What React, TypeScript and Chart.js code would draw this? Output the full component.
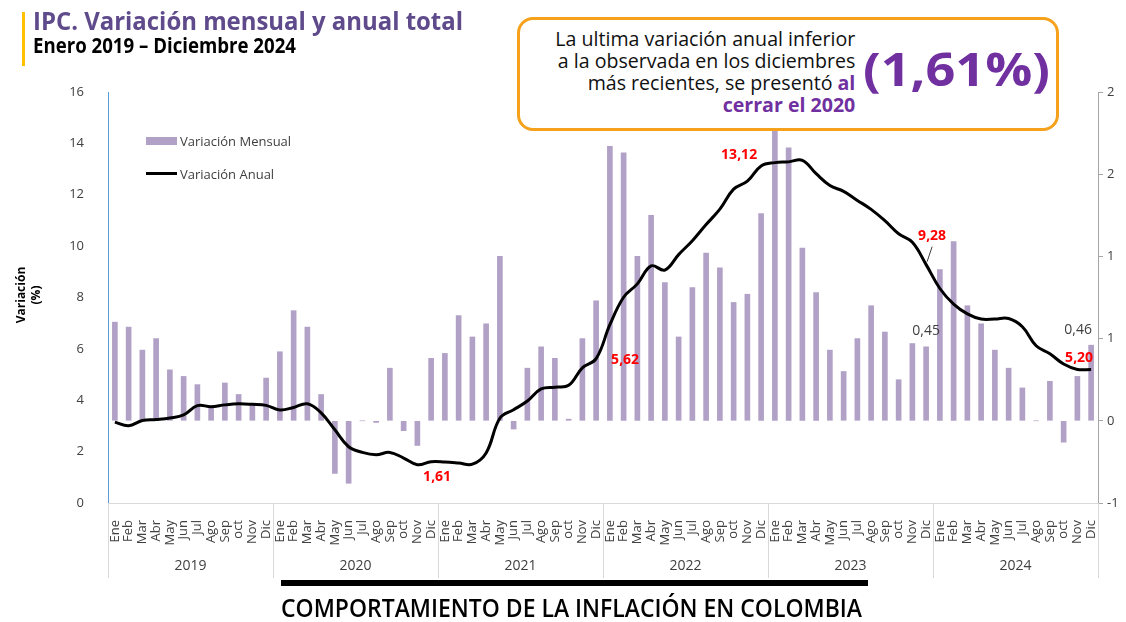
import React, { useEffect, useLayoutEffect, useRef } from 'react';
import { Chart, registerables } from 'chart.js';

Chart.register(...registerables);

// ---------- data ----------
const MONTHS = ['Ene', 'Feb', 'Mar', 'Abr', 'May', 'Jun', 'Jul', 'Ago', 'Sep', 'oct', 'Nov', 'Dic'];
const YEARS = ['2019', '2020', '2021', '2022', '2023', '2024'];

// Variación mensual (%)
const MONTHLY_VAR = [
  0.60, 0.57, 0.43, 0.50, 0.31, 0.27, 0.22, 0.09, 0.23, 0.16, 0.10, 0.26, // 2019
  0.42, 0.67, 0.57, 0.16, -0.32, -0.38, 0.00, -0.01, 0.32, -0.06, -0.15, 0.38, // 2020
  0.41, 0.64, 0.51, 0.59, 1.00, -0.05, 0.32, 0.45, 0.38, 0.01, 0.50, 0.73, // 2021
  1.67, 1.63, 1.00, 1.25, 0.84, 0.51, 0.81, 1.02, 0.93, 0.72, 0.77, 1.26, // 2022
  1.78, 1.66, 1.05, 0.78, 0.43, 0.30, 0.50, 0.70, 0.54, 0.25, 0.47, 0.45, // 2023
  0.92, 1.09, 0.70, 0.59, 0.43, 0.32, 0.20, 0.00, 0.24, -0.13, 0.27, 0.46, // 2024
];

// Variación anual (%)
const ANNUAL_VAR = [
  3.15, 3.01, 3.21, 3.25, 3.31, 3.43, 3.79, 3.75, 3.82, 3.86, 3.84, 3.80, // 2019
  3.62, 3.72, 3.86, 3.51, 2.85, 2.19, 1.97, 1.88, 1.97, 1.75, 1.49, 1.61, // 2020
  1.60, 1.56, 1.51, 1.95, 3.30, 3.63, 3.97, 4.44, 4.51, 4.58, 5.26, 5.62, // 2021
  6.94, 8.01, 8.53, 9.23, 9.07, 9.67, 10.21, 10.84, 11.44, 12.22, 12.53, 13.12, // 2022
  13.25, 13.28, 13.34, 12.82, 12.36, 12.13, 11.78, 11.43, 10.99, 10.48, 10.15, 9.28, // 2023
  8.35, 7.74, 7.36, 7.16, 7.16, 7.18, 6.86, 6.12, 5.81, 5.41, 5.20, 5.20, // 2024
];

const LEFT_TICK_STEP = 2;
const RIGHT_TICK_LABELS: Record<string, string> = {
  '-0.5': '-1', '0': '0', '0.5': '1', '1': '1', '1.5': '2', '2': '2',
};

// points labelled with their annual value (December of each year from 2020)
const ANNUAL_LABEL_IDX = [23, 35, 47, 59, 71];
// bars labelled with their monthly value
const MONTHLY_LABEL_IDX = [59, 71];

const LABELS = YEARS.flatMap(() => MONTHS);
const fmt = (v: number) => v.toFixed(2).replace('.', ',');

// ---------- styles ----------
const FONT = '"Open Sans", "Noto Sans", sans-serif';
const BAR_COLOR = '#B2A1C7';
const PURPLE = '#7030A0';
const TITLE_PURPLE = '#5F4B8B';
const AXIS_TEXT = '#404040';

const ANNUAL_OFFSETS: Record<number, [number, number]> = {
  23: [6, 15], 35: [29, 1.5], 47: [-22, -11], 59: [6, -29], 71: [-12, -11],
};
const MONTHLY_OFFSETS: Record<number, [number, number]> = {
  59: [0, -16], 71: [-13, -15],
};

const annotPlugin = {
  id: 'annot',
  afterDatasetsDraw(chart: any) {
    const { ctx } = chart;
    const xs = chart.scales.x;
    const yl = chart.scales.y;
    const yr = chart.scales.y1;
    ctx.save();
    ctx.textAlign = 'center';
    ctx.textBaseline = 'middle';
    ctx.font = `bold 14px ${FONT}`;
    ctx.fillStyle = '#FF0000';
    ANNUAL_LABEL_IDX.forEach((i) => {
      const px = xs.getPixelForValue(i);
      const py = yl.getPixelForValue(ANNUAL_VAR[i]);
      const [dx, dy] = ANNUAL_OFFSETS[i];
      ctx.fillText(fmt(ANNUAL_VAR[i]), px + dx, py + dy);
      if (i === 59) {
        ctx.strokeStyle = '#404040';
        ctx.lineWidth = 1;
        ctx.beginPath();
        ctx.moveTo(px + 6, py - 18);
        ctx.lineTo(px + 1, py - 3);
        ctx.stroke();
      }
    });
    ctx.font = `14px ${FONT}`;
    ctx.fillStyle = AXIS_TEXT;
    MONTHLY_LABEL_IDX.forEach((i) => {
      const px = xs.getPixelForValue(i);
      const py = yr.getPixelForValue(MONTHLY_VAR[i]);
      const [dx, dy] = MONTHLY_OFFSETS[i];
      ctx.fillText(fmt(MONTHLY_VAR[i]), px + dx, py + dy);
    });
    ctx.restore();
  },
  afterDraw(chart: any) {
    const { ctx, chartArea } = chart;
    const xs = chart.scales.x;
    const n = MONTHS.length;
    const step = (chartArea.right - chartArea.left) / LABELS.length;
    ctx.save();
    ctx.strokeStyle = '#D9D9D9';
    ctx.lineWidth = 1;
    for (let k = 0; k <= YEARS.length; k++) {
      const x = Math.round(chartArea.left + k * n * step) + 0.5;
      ctx.beginPath();
      ctx.moveTo(x, chartArea.bottom);
      ctx.lineTo(x, 578);
      ctx.stroke();
    }
    ctx.fillStyle = AXIS_TEXT;
    ctx.font = `14px ${FONT}`;
    ctx.textAlign = 'center';
    ctx.textBaseline = 'middle';
    YEARS.forEach((y, k) => {
      const x = (xs.getPixelForValue(k * n) + xs.getPixelForValue(k * n + n - 1)) / 2;
      ctx.fillText(y, x, 566);
    });
    ctx.restore();
  },
};

// ---------- helpers ----------
function Fit({ width, align = 'left', style, children }: any) {
  const ref = useRef<HTMLDivElement>(null);
  useLayoutEffect(() => {
    const el = ref.current;
    if (!el) return;
    el.style.transform = 'none';
    const w = el.getBoundingClientRect().width;
    if (w > 0) el.style.transform = `scaleX(${width / w})`;
  }, [width]);
  return (
    <div
      ref={ref}
      style={{
        position: 'absolute',
        whiteSpace: 'nowrap',
        transformOrigin: align === 'right' ? 'right top' : 'left top',
        textAlign: align,
        ...style,
      }}
    >
      {children}
    </div>
  );
}

export default function App() {
  const canvasRef = useRef<HTMLCanvasElement>(null);

  useEffect(() => {
    const canvas = canvasRef.current;
    if (!canvas) return;
    const chart = new Chart(canvas, {
      type: 'bar',
      data: {
        labels: LABELS,
        datasets: [
          {
            type: 'line',
            label: 'Variación Anual',
            data: ANNUAL_VAR,
            yAxisID: 'y',
            borderColor: '#000000',
            borderWidth: 3,
            pointRadius: 0,
            tension: 0.4,
            fill: false,
            order: 0,
          } as any,
          {
            type: 'bar',
            label: 'Variación Mensual',
            data: MONTHLY_VAR,
            yAxisID: 'y1',
            backgroundColor: BAR_COLOR,
            barThickness: 5,
            order: 1,
          },
        ],
      },
      options: {
        responsive: false,
        animation: false,
        devicePixelRatio: 1,
        layout: { padding: { top: 92, left: 0, right: 0, bottom: 0 } },
        plugins: {
          legend: { display: false },
          tooltip: { enabled: false },
        },
        scales: {
          x: {
            type: 'category',
            offset: true,
            grid: { display: false },
            border: { display: true, color: '#D9D9D9', width: 1 },
            ticks: {
              autoSkip: false,
              maxRotation: 90,
              minRotation: 90,
              padding: 9,
              color: AXIS_TEXT,
              font: { family: FONT, size: 13 },
            },
            afterFit(scale: any) {
              scale.height = 119;
            },
          },
          y: {
            position: 'left',
            min: 0,
            max: 16,
            grid: { display: false },
            border: { display: true, color: '#5B9BD5', width: 1 },
            ticks: {
              stepSize: LEFT_TICK_STEP,
              padding: 16,
              color: AXIS_TEXT,
              font: { family: FONT, size: 13 },
            },
            afterFit(scale: any) {
              scale.width = 108;
            },
          },
          y1: {
            position: 'right',
            min: -0.5,
            max: 2,
            grid: {
              display: true,
              drawOnChartArea: false,
              drawTicks: true,
              tickLength: 5,
              color: '#A6A6A6',
            },
            border: { display: true, color: '#A6A6A6', width: 1 },
            ticks: {
              stepSize: 0.5,
              padding: 4,
              color: AXIS_TEXT,
              font: { family: FONT, size: 13 },
              callback: (v: any) => RIGHT_TICK_LABELS[String(Number(v))] ?? String(v),
            },
            afterFit(scale: any) {
              scale.width = 28;
            },
          },
        },
      },
      plugins: [annotPlugin],
    });
    return () => chart.destroy();
  }, []);

  return (
    <div
      style={{
        position: 'absolute',
        left: 0,
        top: 0,
        width: 1126,
        height: 622,
        background: '#fff',
        overflow: 'hidden',
        fontFamily: FONT,
      }}
    >
      <canvas ref={canvasRef} width={1126} height={622} style={{ position: 'absolute', left: 0, top: 0, display: 'block' }} />

      {/* header */}
      <div style={{ position: 'absolute', left: 22, top: 12, width: 3, height: 54, background: '#FFC000' }} />
      <Fit width={430} style={{ left: 33, top: 8, fontSize: 25, lineHeight: '25px', fontWeight: 700, color: TITLE_PURPLE }}>
        IPC. Variación mensual y anual total
      </Fit>
      <Fit width={263} style={{ left: 33, top: 35, fontSize: 21, lineHeight: '21px', fontWeight: 700, color: '#000' }}>
        Enero 2019 – Diciembre 2024
      </Fit>

      {/* callout box */}
      <div
        style={{
          position: 'absolute',
          left: 517,
          top: 17,
          width: 536,
          height: 108,
          border: '3px solid #F5A11C',
          borderRadius: 16,
          background: '#fff',
        }}
      />
      <Fit
        width={300}
        align="right"
        style={{ right: 1126 - 855, top: 28, fontSize: 20, lineHeight: '22px', color: '#111' }}
      >
        <div>La ultima variación anual inferior</div>
        <div>a la observada en los diciembres</div>
        <div>
          más recientes, se presentó <span style={{ color: PURPLE, fontWeight: 700 }}>al</span>
        </div>
        <div style={{ color: PURPLE, fontWeight: 700 }}>cerrar el 2020</div>
      </Fit>
      <Fit width={187} style={{ left: 863, top: 45, fontSize: 46, lineHeight: '46px', fontWeight: 700, color: PURPLE }}>
        (1,61%)
      </Fit>

      {/* legend */}
      <div style={{ position: 'absolute', left: 146, top: 137, width: 31, height: 8, background: BAR_COLOR }} />
      <div style={{ position: 'absolute', left: 180, top: 132, fontSize: 13, lineHeight: '18px', color: AXIS_TEXT }}>
        Variación Mensual
      </div>
      <div style={{ position: 'absolute', left: 146, top: 172, width: 31, height: 3, background: '#000' }} />
      <div style={{ position: 'absolute', left: 180, top: 165, fontSize: 13, lineHeight: '18px', color: AXIS_TEXT }}>
        Variación Anual
      </div>

      {/* y-axis title */}
      <div
        style={{
          position: 'absolute',
          left: 28,
          top: 295,
          transform: 'translate(-50%, -50%) rotate(-90deg)',
          textAlign: 'center',
          fontSize: 12,
          lineHeight: '15px',
          fontWeight: 700,
          color: '#000',
          whiteSpace: 'nowrap',
        }}
      >
        Variación
        <br />
        (%)
      </div>

      {/* footer */}
      <div style={{ position: 'absolute', left: 281, top: 580, width: 587, height: 6, background: '#000' }} />
      <Fit width={581} style={{ left: 281, top: 595, fontSize: 25, lineHeight: '25px', fontWeight: 600, color: '#000' }}>
        COMPORTAMIENTO DE LA INFLACIÓN EN COLOMBIA
      </Fit>
    </div>
  );
}
